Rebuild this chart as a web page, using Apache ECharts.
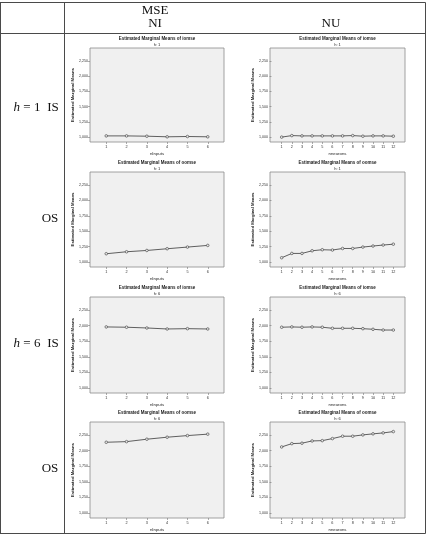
<!DOCTYPE html>
<html>
<head>
<meta charset="utf-8">
<script src="https://cdn.jsdelivr.net/npm/echarts@6/dist/echarts.min.js"></script>
<style>
  html, body { margin: 0; padding: 0; background: #fff; }
  #chart { width: 433px; height: 535px; }
</style>
</head>
<body>
<div id="chart"></div>
<script>
  // categories
  const nInputs = [1, 2, 3, 4, 5, 6];
  const nNeurons = [1, 2, 3, 4, 5, 6, 7, 8, 9, 10, 11, 12];

  // y ticks and their printed labels
  const yTicks = [1, 1.25, 1.5, 1.75, 2, 2.25];
  const yTickLabels = ['1,000', '1,250', '1,500', '1,750', '2,000', '2,250'];

  // estimated marginal means
  const isNI_h1 = [1.02, 1.02, 1.015, 1.005, 1.01, 1.005];
  const isNU_h1 = [1.0, 1.025, 1.02, 1.02, 1.02, 1.02, 1.02, 1.025, 1.015, 1.02, 1.02, 1.015];
  const osNI_h1 = [1.135, 1.167, 1.188, 1.216, 1.243, 1.27];
  const osNU_h1 = [1.07, 1.14, 1.14, 1.183, 1.2, 1.195, 1.22, 1.22, 1.243, 1.26, 1.276, 1.29];
  const isNI_h6 = [1.98, 1.975, 1.963, 1.947, 1.952, 1.947];
  const isNU_h6 = [1.975, 1.98, 1.975, 1.98, 1.975, 1.958, 1.958, 1.958, 1.952, 1.942, 1.93, 1.93];
  const osNI_h6 = [2.135, 2.145, 2.184, 2.216, 2.242, 2.265];
  const osNU_h6 = [2.06, 2.113, 2.12, 2.156, 2.161, 2.194, 2.232, 2.232, 2.253, 2.27, 2.285, 2.306];

  const W = 433, H = 535;
  const sans = 'Liberation Sans, Arial, sans-serif';
  const serif = 'Liberation Serif, DejaVu Serif, serif';

  // layout of the panels (px)
  const rows = [
    { top: 48, bottom: 142, title: 'Estimated Marginal Means of iomse', sub: 'h: 1', ni: isNI_h1, nu: isNU_h1 },
    { top: 172, bottom: 267, title: 'Estimated Marginal Means of oomse', sub: 'h: 1', ni: osNI_h1, nu: osNU_h1 },
    { top: 297, bottom: 393, title: 'Estimated Marginal Means of iomse', sub: 'h: 6', ni: isNI_h6, nu: isNU_h6 },
    { top: 422, bottom: 518, title: 'Estimated Marginal Means of oomse', sub: 'h: 6', ni: osNI_h6, nu: osNU_h6 }
  ];
  const cols = [
    { left: 90, right: 224, cats: nInputs, name: 'nInputs', key: 'ni', pad: 0.8 },
    { left: 270, right: 405, cats: nNeurons, name: 'nneurons', key: 'nu', pad: 1.15 }
  ];

  const grids = [], xAxes = [], yAxes = [], series = [], graphics = [];

  rows.forEach(function (r) {
    cols.forEach(function (c) {
      const i = grids.length;
      grids.push({
        left: c.left, top: r.top, width: c.right - c.left, height: r.bottom - r.top,
        show: true, backgroundColor: '#f0f0f0', borderColor: '#8c8c8c', borderWidth: 0.8
      });
      xAxes.push({
        type: 'value', gridIndex: i,
        min: c.cats[0] - c.pad, max: c.cats[c.cats.length - 1] + c.pad,
        name: c.name, nameLocation: 'middle', nameGap: 10,
        nameTextStyle: { fontFamily: sans, fontSize: 4.3, color: '#222' },
        splitLine: { show: false }, axisLine: { show: false },
        axisTick: { show: true, customValues: c.cats, length: 2, lineStyle: { color: '#777', width: 0.6 } },
        axisLabel: { customValues: c.cats, fontFamily: sans, fontSize: 3.8, color: '#333', margin: 3 }
      });
      yAxes.push({
        type: 'value', gridIndex: i, min: 0.92, max: 2.46,
        name: 'Estimated Marginal Means', nameLocation: 'middle', nameGap: 13,
        nameTextStyle: { fontFamily: sans, fontSize: 4.3, fontWeight: 'bold', color: '#222' },
        splitLine: { show: false }, axisLine: { show: false },
        axisTick: { show: true, customValues: yTicks, length: 2, lineStyle: { color: '#777', width: 0.6 } },
        axisLabel: {
          customValues: yTicks, fontFamily: sans, fontSize: 3.6, color: '#333', margin: 2,
          formatter: function (v) {
            const k = yTicks.findIndex(function (t) { return Math.abs(t - v) < 1e-6; });
            return k >= 0 ? yTickLabels[k] : '';
          }
        }
      });
      series.push({
        type: 'line', xAxisIndex: i, yAxisIndex: i,
        data: c.cats.map(function (x, k) { return [x, r[c.key][k]]; }),
        symbol: 'circle', symbolSize: 2.6,
        lineStyle: { color: '#3a3a3a', width: 0.8 },
        itemStyle: { color: '#e8e8e8', borderColor: '#3a3a3a', borderWidth: 0.6 },
        silent: true, animation: false
      });
      const cx = (c.left + c.right) / 2;
      graphics.push({
        type: 'text', x: cx, y: r.top - 9,
        style: { text: r.title, fontFamily: sans, fontSize: 4.5, fontWeight: 'bold', fill: '#222', align: 'center', verticalAlign: 'middle' }
      });
      graphics.push({
        type: 'text', x: cx, y: r.top - 3.5,
        style: { text: r.sub, fontFamily: sans, fontSize: 4, fill: '#222', align: 'center', verticalAlign: 'middle' }
      });
    });
  });

  // table rules
  const lc = '#4a4a4a';
  function hline(y) { graphics.push({ type: 'line', shape: { x1: 0, y1: y, x2: 425.5, y2: y }, style: { stroke: lc, lineWidth: 1 } }); }
  function vline(x) { graphics.push({ type: 'line', shape: { x1: x, y1: 2.5, x2: x, y2: 533.5 }, style: { stroke: lc, lineWidth: 1 } }); }
  hline(2.5); hline(33.5); hline(533.5);
  vline(0.5); vline(64.5); vline(425.5);

  // header and row labels
  function txt(x, y, s, size) {
    graphics.push({
      type: 'text', x: x, y: y,
      style: {
        text: s, fontFamily: serif, fontSize: size || 13, fill: '#111', align: 'center', verticalAlign: 'middle',
        rich: { i: { fontFamily: serif, fontStyle: 'italic', fontSize: size || 13, fill: '#111' } }
      }
    });
  }
  txt(155, 11, 'MSE'); txt(155, 24, 'NI'); txt(331, 24, 'NU');
  txt(27, 108, '{i|h} = 1'); txt(53, 108, 'IS');
  txt(50, 219, 'OS');
  txt(27, 344, '{i|h} = 6'); txt(53, 344, 'IS');
  txt(50, 469, 'OS');

  const chart = echarts.init(document.getElementById('chart'), null, { width: W, height: H });
  chart.setOption({
    animation: false,
    grid: grids, xAxis: xAxes, yAxis: yAxes, series: series,
    graphic: graphics
  });
</script>
</body>
</html>
